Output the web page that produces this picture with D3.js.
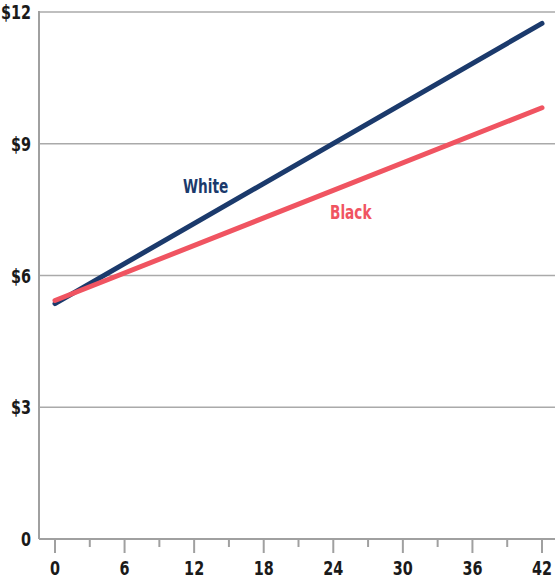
<!DOCTYPE html>
<html>
<head>
<meta charset="utf-8">
<script src="https://cdn.jsdelivr.net/npm/d3@7"></script>
<style>
  html, body { margin: 0; padding: 0; background: #fff; }
  svg { display: block; }
  text { font-family: "DejaVu Sans Condensed", "Liberation Sans Narrow", "Arial Narrow", sans-serif; }
</style>
</head>
<body>
<svg id="chart" width="555" height="579"></svg>
<script>
// Hourly wage by x-value, two groups (straight-line trends)
const xValues = [0, 42];
const whiteWage = [5.36, 11.74];
const blackWage = [5.43, 9.82];
const seriesNames = ["White", "Black"];
const xTicks = [0, 6, 12, 18, 24, 30, 36, 42];
const xMinorTicks = [3, 9, 15, 21, 27, 33, 39];
const yTicks = [0, 3, 6, 9, 12];
const yTickLabels = ["0", "$3", "$6", "$9", "$12"];

const svg = d3.select("#chart");
const plot = { left: 39, right: 555, top: 12, bottom: 539 };
const squeeze = 0.8; // horizontal compression for a condensed look

const x = d3.scaleLinear().domain([0, 42]).range([55, 542]);
const y = d3.scaleLinear().domain([0, 12]).range([plot.bottom, plot.top]);

// horizontal gridlines
svg.append("g").selectAll("line")
  .data(yTicks.filter(d => d > 0))
  .join("line")
  .attr("x1", plot.left).attr("x2", plot.right)
  .attr("y1", d => y(d)).attr("y2", d => y(d))
  .attr("stroke", "#aaaaaa").attr("stroke-width", 1.3);

// axis lines
svg.append("line").attr("x1", plot.left).attr("x2", plot.left).attr("y1", plot.top - 1).attr("y2", plot.bottom)
  .attr("stroke", "#a0a0a0").attr("stroke-width", 2);
svg.append("line").attr("x1", plot.left).attr("x2", plot.right).attr("y1", plot.bottom).attr("y2", plot.bottom)
  .attr("stroke", "#a0a0a0").attr("stroke-width", 2);

// y labels
svg.append("g").selectAll("text")
  .data(yTicks)
  .join("text")
  .attr("transform", d => `translate(31,${y(d) + 7}) scale(${squeeze},1)`)
  .attr("text-anchor", "end")
  .attr("font-size", 20).attr("font-weight", 600)
  .attr("fill", "#1a1a1a")
  .text((d, i) => yTickLabels[i]);

// x ticks
svg.append("g").selectAll("line")
  .data(xTicks)
  .join("line")
  .attr("x1", d => x(d)).attr("x2", d => x(d))
  .attr("y1", plot.bottom + 1).attr("y2", plot.bottom + 14)
  .attr("stroke", "#a0a0a0").attr("stroke-width", 2);
svg.append("g").selectAll("line")
  .data(xMinorTicks)
  .join("line")
  .attr("x1", d => x(d)).attr("x2", d => x(d))
  .attr("y1", plot.bottom + 1).attr("y2", plot.bottom + 8)
  .attr("stroke", "#a0a0a0").attr("stroke-width", 2);
svg.append("g").selectAll("text")
  .data(xTicks)
  .join("text")
  .attr("transform", d => `translate(${x(d)},575) scale(${squeeze},1)`)
  .attr("text-anchor", "middle")
  .attr("font-size", 20).attr("font-weight", 600)
  .attr("fill", "#1a1a1a")
  .text(d => d);

// trend lines
const line = d3.line().x(d => x(d[0])).y(d => y(d[1]));
const series = [
  { name: seriesNames[0], values: whiteWage, color: "#1b3a6c" },
  { name: seriesNames[1], values: blackWage, color: "#f05461" }
];
// draw White first, Black on top
series.forEach(s => {
  svg.append("path")
    .datum(xValues.map((xv, i) => [xv, s.values[i]]))
    .attr("d", line)
    .attr("fill", "none")
    .attr("stroke", s.color)
    .attr("stroke-width", 5)
    .attr("stroke-linecap", "round");
});

// series labels
svg.append("text").attr("transform", `translate(183,193) scale(${squeeze},1)`)
  .attr("font-size", 19).attr("font-weight", "bold").attr("fill", "#1b3a6c")
  .text(seriesNames[0]);
svg.append("text").attr("transform", `translate(330,219) scale(${squeeze},1)`)
  .attr("font-size", 19).attr("font-weight", "bold").attr("fill", "#f05461")
  .text(seriesNames[1]);
</script>
</body>
</html>
